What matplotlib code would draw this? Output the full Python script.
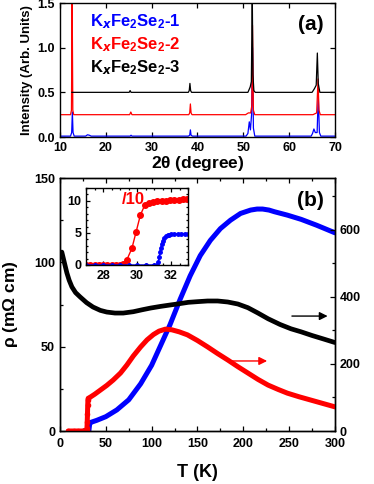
import matplotlib
matplotlib.use("Agg")
import matplotlib.pyplot as plt
from matplotlib.ticker import MultipleLocator

plt.rcParams['font.family'] = ['Liberation Sans', 'DejaVu Sans']
plt.rcParams['font.weight'] = 'bold'
plt.rcParams['mathtext.default'] = 'regular'

# --- XRD data (2theta, intensity) ---
xrd1_x = [10, 12.3, 12.55, 12.7, 12.85, 13.1, 15.6, 16.0, 16.4, 16.8, 25.3, 25.5, 25.7,
          38.0, 38.3, 38.45, 38.6, 38.9, 50.6, 51.0, 51.3, 51.55, 51.8, 52.0, 52.2, 52.5,
          64.8, 65.1, 65.4, 65.7, 66.1, 66.35, 66.6, 66.9, 70]
xrd1_y = [0.01, 0.01, 0.05, 0.28, 0.05, 0.01, 0.01, 0.025, 0.02, 0.01, 0.01, 0.02, 0.01,
          0.01, 0.02, 0.08, 0.02, 0.01, 0.01, 0.04, 0.17, 0.08, 0.25, 1.0, 0.1, 0.01,
          0.01, 0.04, 0.09, 0.05, 0.05, 0.47, 0.05, 0.01, 0.01]
xrd2_x = [10, 12.3, 12.5, 12.65, 12.8, 13.0, 25.2, 25.45, 25.7, 38.1, 38.3, 38.45, 38.6, 38.8,
          50.5, 51.1, 51.6, 51.85, 52.0, 52.2, 52.5, 65.2, 65.6, 66.0, 66.3, 66.5, 66.8, 70]
xrd2_y = [0.25, 0.25, 0.3, 1.6, 0.3, 0.25, 0.25, 0.28, 0.25, 0.25, 0.27, 0.37, 0.27, 0.25,
          0.25, 0.27, 0.27, 0.35, 1.25, 0.3, 0.25, 0.25, 0.26, 0.27, 0.65, 0.3, 0.25, 0.25]
xrd3_x = [12.6, 13.0, 25.1, 25.3, 25.5, 38.0, 38.2, 38.35, 38.5, 38.7, 51.0, 51.5, 51.75,
          51.95, 52.1, 52.3, 52.6, 65.0, 65.5, 65.9, 66.15, 66.35, 66.7, 70]
xrd3_y = [0.5, 0.5, 0.5, 0.52, 0.5, 0.5, 0.52, 0.6, 0.52, 0.5, 0.5, 0.56, 0.62,
          1.6, 0.7, 0.52, 0.5, 0.5, 0.54, 0.58, 0.94, 0.6, 0.5, 0.5]

# --- resistivity data ---
# sample 1 (blue, left axis)
T1 = [31.5, 32.0, 32.5, 33, 40, 50, 62, 75, 88, 100, 110, 120, 131, 142, 153, 164, 175,
      186, 197, 208, 215, 221, 228, 234, 248, 263, 280, 300]
rho1 = [0, 2.5, 4.5, 5.0, 6.3, 8.5, 12.5, 18.5, 28, 39, 51, 63, 78, 92, 104, 113, 120,
        125, 129, 131, 131.6, 131.6, 131, 130, 128, 125.5, 122, 117.5]
# sample 2 (red, right axis)
T2 = [9, 15, 20, 25, 28.5, 29.0, 29.4, 29.7, 30.0, 30.25, 30.5, 31, 33, 38, 44, 51, 58, 66,
      73, 80, 88, 95, 102, 108, 115, 122, 130, 139, 150, 161, 172, 183, 194, 205, 216,
      227, 238, 248, 261, 274, 287, 300]
rho2 = [0, 0, 0, 0, 0, 2, 8, 26, 52, 78, 93, 97, 101, 110, 122, 136, 152, 173, 197, 224,
        251, 272, 288, 298, 304, 302, 296, 287, 270, 251, 231, 212, 192, 173, 154, 137,
        124, 113, 102, 92, 82, 72]
# sample 3 (black, right axis)
T3 = [2, 5, 7.5, 10, 13, 17, 22, 29, 36, 44, 51, 60, 69, 80, 90, 99, 110, 120, 128, 140,
      150, 161, 172, 183, 194, 205, 216, 227, 240, 252, 263, 275, 287, 300]
rho3 = [534, 500, 472, 450, 430, 413, 400, 383, 370, 360, 355, 352, 352, 356, 362, 367,
        372, 376, 379, 384, 386, 388, 388, 385, 379, 368, 352, 335, 318, 305, 296, 285,
        275, 264]

# inset (rho/10 for red, same scale for blue)
Ti2 = [27.0, 27.25, 27.5, 27.75, 28.0, 28.25, 28.5, 28.75, 29.0, 29.2, 29.4, 29.7, 29.95,
       30.2, 30.45, 30.7, 30.95, 31.2, 31.45, 31.7, 31.95, 32.2, 32.45, 32.7, 32.95]
rhoi2 = [0, 0, 0, 0, 0, 0, 0, 0, 0, 0.1, 0.8, 2.6, 5.2, 7.8, 9.3, 9.7, 9.85, 9.95,
         10.0, 10.05, 10.1, 10.15, 10.2, 10.25, 10.3]
Ti1 = [27.0, 27.5, 28.0, 28.5, 29.0, 29.5, 30.0, 30.5, 31.0, 31.2, 31.25, 31.3, 31.35,
       31.4, 31.45, 31.5, 31.6, 31.7, 31.8, 31.9, 32.0, 32.2, 32.4, 32.6, 32.8, 33.0]
rhoi1 = [0, 0, 0, 0, 0, 0, 0, 0, 0, 0, 0.4, 1.2, 2.0, 2.7, 3.3, 3.7, 4.2, 4.5, 4.65,
         4.75, 4.8, 4.85, 4.88, 4.9, 4.9, 4.9]

fig = plt.figure(figsize=(3.74, 4.84), dpi=100)


def style_ax(ax, size=9):
    ax.tick_params(which='both', direction='in', labelsize=size, width=0.9)
    ax.tick_params(which='major', length=3.5)
    ax.tick_params(which='minor', length=2)
    for s in ax.spines.values():
        s.set_linewidth(1.0)


# top panel: XRD
ax1 = fig.add_axes([0.1604, 0.7169, 0.7353, 0.2769])
ax1.plot(xrd1_x, xrd1_y, color='blue', lw=0.9)
ax1.plot(xrd2_x, xrd2_y, color='red', lw=0.9)
ax1.plot(xrd3_x, xrd3_y, color='black', lw=0.9)
ax1.set_xlim(10, 70)
ax1.set_ylim(0, 1.5)
ax1.xaxis.set_major_locator(MultipleLocator(10))
ax1.yaxis.set_major_locator(MultipleLocator(0.5))
ax1.tick_params(top=True, right=True)
style_ax(ax1)
ax1.set_xlabel(r'2$\theta$ (degree)', fontsize=12.5, fontweight='bold', labelpad=0)
ax1.set_ylabel('Intensity (Arb. Units)', fontsize=9.5, fontweight='bold', labelpad=3)
ax1.text(0.11, 0.86, r'K$_\mathit{x}$Fe$_2$Se$_2$-1', color='blue', transform=ax1.transAxes,
         fontsize=12, fontweight='bold', va='center')
ax1.text(0.11, 0.69, r'K$_\mathit{x}$Fe$_2$Se$_2$-2', color='red', transform=ax1.transAxes,
         fontsize=12, fontweight='bold', va='center')
ax1.text(0.11, 0.52, r'K$_\mathit{x}$Fe$_2$Se$_2$-3', color='black', transform=ax1.transAxes,
         fontsize=12, fontweight='bold', va='center')
ax1.text(0.96, 0.84, '(a)', transform=ax1.transAxes, fontsize=15, fontweight='bold',
         ha='right', va='center')

# bottom panel: resistivity
ax2 = fig.add_axes([0.1604, 0.1095, 0.7353, 0.5227])
ax3 = ax2.twinx()
ax2.plot(T1, rho1, color='blue', lw=3.6, solid_capstyle='round')
ax3.plot(T2, rho2, color='red', lw=3.6, solid_capstyle='round')
ax3.plot(T2[:12], rho2[:12], color='red', lw=1, marker='o', ms=3)
ax3.plot(T3, rho3, color='black', lw=3.4, solid_capstyle='round')
ax2.set_xlim(0, 300)
ax2.set_ylim(0, 150)
ax3.set_ylim(0, 755)
ax2.xaxis.set_major_locator(MultipleLocator(50))
ax2.xaxis.set_minor_locator(MultipleLocator(25))
ax2.yaxis.set_major_locator(MultipleLocator(50))
ax2.yaxis.set_minor_locator(MultipleLocator(25))
ax3.yaxis.set_major_locator(MultipleLocator(200))
ax3.yaxis.set_minor_locator(MultipleLocator(100))
ax2.tick_params(which='both', top=True)
style_ax(ax2)
style_ax(ax3)
ax2.tick_params(axis='x', pad=5)
ax2.set_xlabel('T (K)', fontsize=13, fontweight='bold', labelpad=10)
ax2.set_ylabel(r'$\rho$ (m$\Omega$ cm)', fontsize=12.5, fontweight='bold', labelpad=10)
ax2.text(0.96, 0.91, '(b)', transform=ax2.transAxes, fontsize=15, fontweight='bold',
         ha='right', va='center')
ax3.annotate('', xy=(229, 209), xytext=(183, 209),
             arrowprops=dict(arrowstyle='-|>', color='red', lw=1.0, mutation_scale=12))
ax3.annotate('', xy=(295, 343), xytext=(250, 343),
             arrowprops=dict(arrowstyle='-|>', color='black', lw=1.0, mutation_scale=12))

# inset
ax4 = fig.add_axes([0.23, 0.4525, 0.2727, 0.159])
ax4.plot(Ti2, rhoi2, color='red', lw=1.0, marker='o', ms=4)
ax4.plot(Ti1, rhoi1, color='blue', lw=1.0, marker='o', ms=2.5)
ax4.set_xlim(27, 33)
ax4.set_ylim(0, 12)
ax4.xaxis.set_major_locator(MultipleLocator(2))
ax4.xaxis.set_minor_locator(MultipleLocator(0.5))
ax4.yaxis.set_major_locator(MultipleLocator(5))
ax4.yaxis.set_minor_locator(MultipleLocator(1))
ax4.tick_params(which='both', top=True, right=True)
style_ax(ax4, 9)
ax4.tick_params(which='major', length=3)
ax4.tick_params(which='minor', length=1.5)
ax4.text(29.8, 10.2, '/10', color='red', fontsize=12, fontweight='bold', ha='center',
         va='center')

fig.savefig('out.png', dpi=100)
